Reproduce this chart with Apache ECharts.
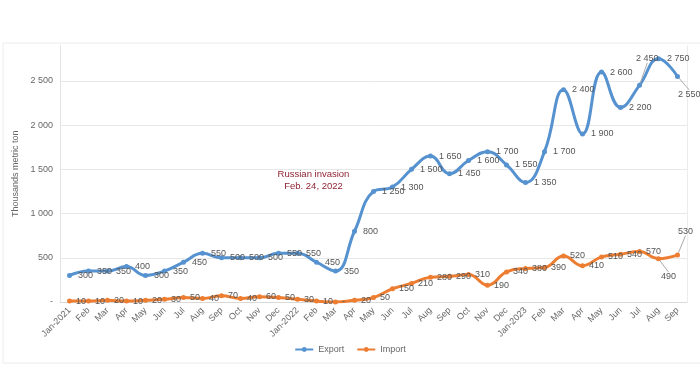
<!DOCTYPE html>
<html>
<head>
<meta charset="utf-8">
<script src="https://cdn.jsdelivr.net/npm/echarts@6/dist/echarts.min.js"></script>
<style>html,body{margin:0;padding:0;background:#fff}#c{width:700px;height:365px}</style>
</head>
<body>
<div id="c"></div>
<script>
const categories = ['Jan-2021','Feb','Mar','Apr','May','Jun','Jul','Aug','Sep','Oct','Nov','Dec',
  'Jan-2022','Feb','Mar','Apr','May','Jun','Jul','Aug','Sep','Oct','Nov','Dec',
  'Jan-2023','Feb','Mar','Apr','May','Jun','Jul','Aug','Sep'];
const exportValues = [300,350,350,400,300,350,450,550,500,500,500,550,
  550,450,350,800,1250,1300,1500,1650,1450,1600,1700,1550,
  1350,1700,2400,1900,2600,2200,2450,2750,2550];
const importValues = [10,10,20,10,20,30,50,40,70,40,60,50,
  30,10,0,20,50,150,210,280,290,310,190,340,
  380,390,520,410,510,540,570,490,530];
const yTicks = [0,500,1000,1500,2000,2500];
const annotationText = 'Russian invasion\nFeb. 24, 2022';
const annotationAt = {index: 13, value: 1370};

function fmt(v){ if (v === 0) return '-'; return String(v).replace(/\B(?=(\d{3})+(?!\d))/g, ' '); }

const FONT = 'Liberation Sans';
const TXT = '#666666';
const exportMoves = {30: {dx: -12, dy: -27}, 32: {dx: -8, dy: 18}};
const importMoves = {31: {dx: -4, dy: 18}, 32: {dx: -6, dy: -24}};

function withLeaders(values, moves) {
  return values.map((v, i) => moves[i] ? {value: v, labelLine: {show: true, lineStyle: {color: '#aaaaaa', width: 1}}} : v);
}

const chart = echarts.init(document.getElementById('c'), null, {renderer: 'canvas'});
chart.setOption({
  animation: false,
  backgroundColor: '#ffffff',
  textStyle: {fontFamily: FONT},
  graphic: [{type: 'rect', shape: {x: 3, y: 43, width: 800, height: 320}, style: {fill: 'none', stroke: '#ececec', lineWidth: 1}, silent: true}],
  grid: {left: 60, right: 13, top: 45.5, bottom: 63},
  legend: {
    bottom: 6, left: 'center', itemWidth: 18, itemHeight: 6, itemGap: 12,
    textStyle: {fontSize: 9, color: TXT, fontFamily: FONT},
    data: ['Export', 'Import']
  },
  xAxis: {
    type: 'category', data: categories, boundaryGap: true,
    axisLine: {lineStyle: {color: '#d9d9d9'}},
    axisTick: {show: false},
    axisLabel: {rotate: 45, fontSize: 9, color: TXT, margin: 7, interval: 0, fontFamily: FONT}
  },
  yAxis: [{
    type: 'value', min: 0, max: 2900, interval: 500,
    name: 'Thousands metric ton', nameLocation: 'middle', nameGap: 35, nameRotate: 90,
    nameTextStyle: {fontSize: 9, color: TXT, fontFamily: FONT},
    axisLine: {show: true, lineStyle: {color: '#e3e3e3'}},
    axisTick: {show: false},
    axisLabel: {fontSize: 9, color: TXT, margin: 7, showMaxLabel: false,
      formatter: v => yTicks.includes(v) ? fmt(v) : ''},
    splitLine: {lineStyle: {color: '#e8e8e8'}, showMaxLine: false}
  }, {
    type: 'value', min: 0, max: 2900, interval: 500, position: 'right',
    axisLine: {show: true, lineStyle: {color: '#ececec'}},
    axisTick: {show: false}, axisLabel: {show: false}, splitLine: {show: false}
  }],
  series: [{
    name: 'Export', type: 'line', smooth: 0.45, data: withLeaders(exportValues, exportMoves),
    symbol: 'circle', symbolSize: 5,
    itemStyle: {color: '#5592CF'},
    lineStyle: {width: 3, color: '#5592CF'},
    label: {show: true, position: 'right', distance: 6, offset: [0, 2], fontSize: 9, color: '#555', fontFamily: FONT,
      formatter: p => fmt(p.value)},
    labelLine: {show: false},
    labelLayout: p => exportMoves[p.dataIndex] || {},
    markPoint: {
      symbol: 'circle', symbolSize: 0,
      data: [{coord: [annotationAt.index, annotationAt.value]}],
      label: {show: true, position: 'inside', offset: [-3, 0], formatter: annotationText,
        fontSize: 9.5, lineHeight: 12, color: '#8E2433', fontFamily: FONT}
    }
  }, {
    name: 'Import', type: 'line', smooth: 0.45, data: withLeaders(importValues, importMoves),
    symbol: 'circle', symbolSize: 5,
    itemStyle: {color: '#ED7D31'},
    lineStyle: {width: 3, color: '#ED7D31'},
    label: {show: true, position: 'right', distance: 4, offset: [0, 4], fontSize: 9, color: '#555', fontFamily: FONT,
      formatter: p => fmt(p.value)},
    labelLine: {show: false},
    labelLayout: p => importMoves[p.dataIndex] || {}
  }]
});
</script>
</body>
</html>
